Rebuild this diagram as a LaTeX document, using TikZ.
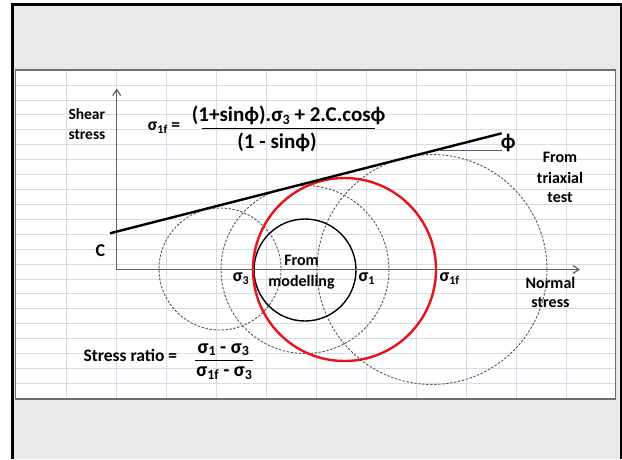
\documentclass[tikz,border=0pt]{standalone}
\usepackage{fontspec}
\setmainfont{Carlito}
\usetikzlibrary{arrows.meta}
\definecolor{gridc}{RGB}{216,219,232}
\definecolor{bgc}{RGB}{233,233,233}
\definecolor{axc}{RGB}{95,95,95}
\definecolor{dashc}{RGB}{85,85,85}
\definecolor{panelc}{RGB}{110,110,110}
\definecolor{redc}{RGB}{232,18,24}
\newcommand{\fs}[1]{\fontsize{#1}{#1}\selectfont}
\newcommand{\sbs}[2]{\raisebox{-0.3ex}{\fs{#1}#2}}
\begin{document}
\begin{tikzpicture}[x=1pt,y=-1pt,
  lbl/.style={inner sep=0pt, font=\bfseries\fs{16}, text=black},
  eq/.style={inner sep=0pt, font=\bfseries\fs{21}, text=black},
  dcirc/.style={draw=dashc, line width=0.9pt, dash pattern=on 2.4pt off 1.6pt},
  axisline/.style={draw=axc, line width=1.2pt, -{Straight Barb[length=6pt,width=8pt]}},
  gridline/.style={draw=gridc, line width=0.8pt},
  barline/.style={draw=black, line width=1.4pt}]
\useasboundingbox (0,0) rectangle (622,459);
% background and frame
\fill[white] (0,0) rectangle (622,459);
\fill[bgc] (12.5,4) rectangle (621,459);
\draw[black, line width=3pt] (12.5,459) -- (12.5,4) -- (621,4) -- (621,459);
% panel
\fill[white] (15.5,70) rectangle (615.5,399);
\foreach \i in {0,...,10} \draw[gridline] ({66.7+50*\i},70) -- ({66.7+50*\i},399);
\foreach \j in {0,...,20} \draw[gridline] (15.5,{85+14.92*\j}) -- (615.5,{85+14.92*\j});
\draw[panelc, line width=1.5pt] (15.5,70) rectangle (615.5,399);
% coordinates
\coordinate (O) at (116.7,269.5);
\coordinate (ytip) at (116.7,88.5);
\coordinate (xtip) at (580,269.5);
\coordinate (e1) at (110,233.3);
\coordinate (e2) at (501.7,133.3);
\coordinate (h1) at (440,150);
\coordinate (h2) at (502,150);
\coordinate (cA) at (220,269);
\coordinate (cB) at (305,269.5);
\coordinate (cC) at (432,269.5);
\coordinate (cR) at (344.5,269.5);
\coordinate (cM) at (305,270);
% circles
\draw[dcirc] (cA) circle[radius=61];
\draw[dcirc] (cB) circle[radius=84];
\draw[dcirc] (cC) circle[radius=115];
\draw[black, line width=1.4pt] (cM) circle[radius=51];
\draw[redc, line width=2.4pt] (cR) circle[radius=91.5];
% axes
\draw[axisline] (O) -- (ytip);
\draw[axisline] (O) -- (xtip);
% envelope
\draw[black, line width=2.4pt] (e1) -- (e2);
\draw[axc, line width=1pt] (h1) -- (h2);
% labels
\node[lbl, anchor=base west, font=\bfseries\fs{15.5}] (sh1) at (68.3,119) {Shear};
\node[lbl, anchor=base west, font=\bfseries\fs{15.5}] (sh2) at (68.3,139) {stress};
\node[lbl, anchor=base west, font=\bfseries\fs{17.5}] (s1f) at (147.7,130.7) {σ\sbs{12}{1f} =};
\node[eq, anchor=base] (num) at (288.7,121.5) {(1+sinϕ).σ\sbs{14}{3} + 2.C.cosϕ};
\coordinate (b1) at (201.7,128.3);
\coordinate (b2) at (375,128.3);
\draw[barline] (b1) -- (b2);
\node[eq, anchor=base] (den) at (277,148.3) {(1 - sinϕ)};
\node[eq, anchor=center] (phi) at (508.3,142.7) {ϕ};
\node[lbl, font=\bfseries\fs{18}] (C) at (100.5,251) {C};
\node[lbl, anchor=base west, font=\bfseries\fs{18}] (s3) at (232.7,281.7) {σ\sbs{12}{3}};
\node[lbl, anchor=base west, font=\bfseries\fs{18}] (s1) at (358.3,281.7) {σ\sbs{12}{1}};
\node[lbl, anchor=base west, font=\bfseries\fs{18}] (s1fb) at (439.3,281.7) {σ\sbs{12}{1f}};
\node[lbl, anchor=base] (fm1) at (301.5,265) {From};
\node[lbl, anchor=base] (fm2) at (301.5,286) {modelling};
\node[lbl, anchor=base] (ft1) at (560,162.7) {From};
\node[lbl, anchor=base] (ft2) at (560,183.3) {triaxial};
\node[lbl, anchor=base] (ft3) at (560,202.7) {test};
\node[lbl, anchor=base] (ns1) at (550.5,288.3) {Normal};
\node[lbl, anchor=base] (ns2) at (550.5,307.8) {stress};
\node[lbl, anchor=base west, font=\bfseries\fs{17.5}] (sr) at (83.3,361.7) {Stress ratio =};
\node[eq, anchor=base, font=\bfseries\fs{20}] (rn) at (223.3,353) {σ\sbs{14}{1} - σ\sbs{14}{3}};
\coordinate (r1) at (195,360.7);
\coordinate (r2) at (253,360.7);
\draw[barline] (r1) -- (r2);
\node[eq, anchor=base, font=\bfseries\fs{20}] (rd) at (224.2,376.7) {σ\sbs{14}{1f} - σ\sbs{14}{3}};
\end{tikzpicture}
\end{document}
